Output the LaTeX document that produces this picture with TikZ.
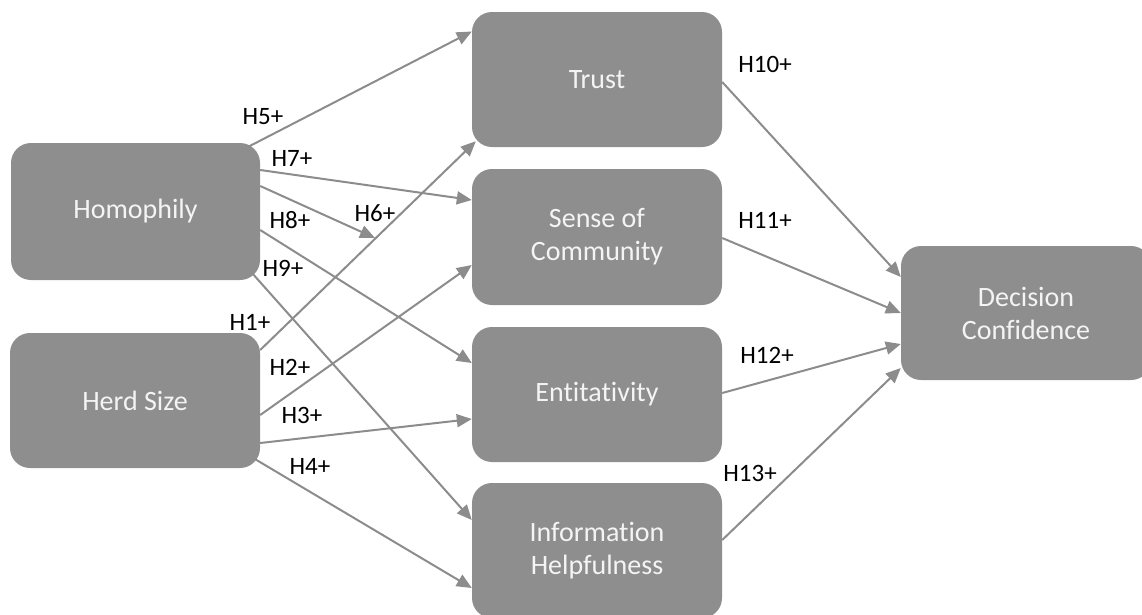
\documentclass[tikz,border=0pt]{standalone}
\usepackage{fontspec}
\setmainfont[Ligatures=NoCommon]{Carlito}
\usetikzlibrary{arrows.meta}
\definecolor{boxgray}{HTML}{8E8E8E}
\definecolor{linkgray}{HTML}{8C8C8C}
\definecolor{boxtext}{HTML}{F4F4F4}
\tikzset{
  construct/.style={fill=boxgray, draw=none, rounded corners=20pt,
    minimum width=250pt, minimum height=135pt, inner sep=0pt,
    text=boxtext, align=center, font=\fontsize{28pt}{33pt}\selectfont},
  link/.style={draw=linkgray, line width=2pt,
    -{Triangle[length=15pt,width=13pt]}},
  hyp/.style={text=black, inner sep=0pt, font=\fontsize{25pt}{30pt}\selectfont}
}
\begin{document}
\begin{tikzpicture}[x=1pt,y=-1pt]
  \useasboundingbox (0,0) rectangle (1142,614);
  \clip (0,0) rectangle (1142,614);

  % constructs
  \node[construct, minimum width=249pt, minimum height=137pt] (homophily) at (135.5,211.5) {Homophily};
  \node[construct] (herd) at (135,400.5) {Herd Size};
  \node[construct] (trust) at (597,79.5) {Trust};
  \node[construct, minimum height=136pt] (sense) at (597,237) {Sense of\\Community};
  \node[construct] (entit) at (597,394.5) {Entitativity};
  \node[construct] (info) at (597,550.5) {Information\\Helpfulness};
  \node[construct, minimum width=250pt, minimum height=134pt] (dc) at (1026,313) {Decision\\Confidence};

  % free end of the short arrow
  \coordinate (h8end) at (375,238);

  % antecedents -> mediators
  \draw[link] ([xshift=-12pt,yshift=-4pt]homophily.north east) -- ([yshift=48pt]trust.west);
  \draw[link] ([yshift=41.5pt]homophily.east) -- ([yshift=37pt]sense.west);
  \draw[link] ([yshift=25.5pt]homophily.east) -- (h8end);
  \draw[link] ([yshift=-18.5pt]homophily.east) -- ([yshift=31.5pt]entit.west);
  \draw[link] ([xshift=-8pt,yshift=7pt]homophily.south east) -- ([yshift=30.5pt]info.west);
  \draw[link] ([yshift=50.5pt]herd.east) -- ([xshift=4pt,yshift=6pt]trust.south west);
  \draw[link] ([yshift=-14.5pt]herd.east) -- ([yshift=-28pt]sense.west);
  \draw[link] ([yshift=-42.5pt]herd.east) -- ([yshift=-24.5pt]entit.west);
  \draw[link] ([xshift=-5pt,yshift=9pt]herd.south east) -- ([yshift=-37.5pt]info.west);

  % mediators -> outcome
  \draw[link] ([yshift=-2.5pt]trust.east) -- ([yshift=36pt]dc.west);
  \draw[link] ([yshift=-1pt]sense.east) -- (dc.west);
  \draw[link] ([yshift=1.5pt]entit.east) -- ([yshift=-31pt]dc.west);
  \draw[link] ([yshift=10.5pt]info.east) -- ([yshift=-55pt]dc.west);

  % hypothesis labels
  \node[hyp] (l5) at (263,117) {H5+};
  \node[hyp] (l7) at (292,158) {H7+};
  \node[hyp] (l8) at (290,220) {H8+};
  \node[hyp] (l6) at (375,213) {H6+};
  \node[hyp] (l9) at (283,268) {H9+};
  \node[hyp] (l1) at (250,322) {H1+};
  \node[hyp] (l2) at (290,367) {H2+};
  \node[hyp] (l3) at (302,415) {H3+};
  \node[hyp] (l4) at (310,466) {H4+};
  \node[hyp] (l10) at (765,64) {H10+};
  \node[hyp] (l11) at (765,220) {H11+};
  \node[hyp] (l12) at (767,355) {H12+};
  \node[hyp] (l13) at (750,473) {H13+};
\end{tikzpicture}
\end{document}
